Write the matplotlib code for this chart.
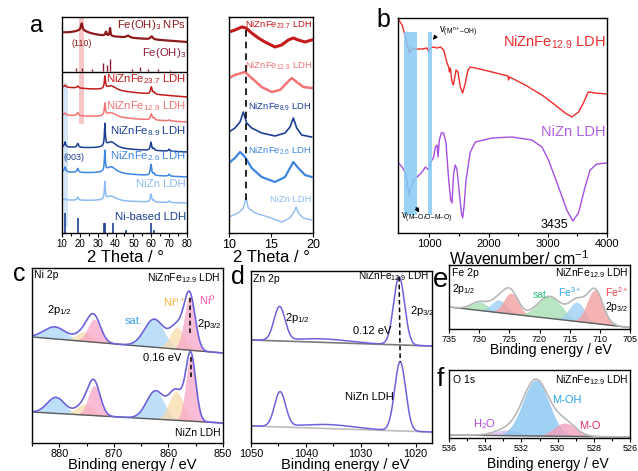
import numpy as np
import matplotlib
matplotlib.use("Agg")
import matplotlib.pyplot as plt

plt.rcParams['font.family'] = ['Liberation Sans', 'DejaVu Sans']
plt.rcParams['mathtext.fontset'] = 'custom'
plt.rcParams['mathtext.rm'] = 'Liberation Sans'
plt.rcParams['mathtext.default'] = 'regular'
plt.rcParams['axes.linewidth'] = 1.0

W, H = 638, 471

# ---------------- data: panel a (XRD, wide range) ----------------
# baselines (intensity at 10 deg, at 80 deg) and peaks (2theta, height, hwhm)
xrd_names = ['Fe(OH)$_3$ NPs', 'NiZnFe$_{23.7}$ LDH', 'NiZnFe$_{12.9}$ LDH',
             'NiZnFe$_{8.9}$ LDH', 'NiZnFe$_{2.6}$ LDH', 'NiZn LDH']
xrd_colors = ['#8e1b1b', '#c41a1a', '#f27474', '#1c3f94', '#3d86e2', '#8cbcf3']
xrd_base = [(200, 191), (146, 136), (118, 111), (86, 81), (61, 56), (33, 30)]
xrd_peaks = [
    [(21.0, 7, 0.5), (21.0, 4, 5.0), (34.6, 4, 0.4), (36.9, 8, 0.3), (47.0, 2, 1.0), (60.2, 3, 0.8)],
    [(11.7, 2, 0.5), (18.8, 2, 0.6), (34.0, 12, 0.35), (37.5, 5, 3.5), (60.0, 7, 0.5), (61.5, 2, 0.5)],
    [(11.7, 2, 0.5), (18.8, 3, 0.6), (34.0, 12, 0.35), (37.5, 5, 3.5), (60.0, 6, 0.5), (61.5, 2, 0.5), (70.0, 1, 0.6)],
    [(11.7, 5, 0.45), (18.8, 4, 0.5), (34.0, 22, 0.3), (37.5, 7, 3.5), (59.8, 8, 0.45), (61.4, 2, 0.4), (70.0, 2, 0.5)],
    [(11.7, 5, 0.5), (18.8, 4, 0.5), (34.0, 20, 0.3), (37.5, 7, 3.5), (59.8, 11, 0.45), (61.4, 2, 0.4), (70.0, 2, 0.5)],
    [(11.7, 1, 0.5), (18.8, 3, 0.5), (34.0, 17, 0.3), (37.5, 5, 3.5), (59.8, 8, 0.45), (61.4, 2, 0.4), (70.0, 1.5, 0.5)],
]
xrd_label_y = [208, 154, 127, 102, 77, 49]

feoh3_pos = [17.8, 21.0, 26.6, 33.1, 35.4, 36.8, 49.0, 53.6, 58.3, 63.9, 70.4]
feoh3_int = [3, 3, 2, 8, 6, 12, 2, 4, 2, 2, 1]
ldh_pos = [11.7, 18.8, 33.5, 34.3, 38.8, 46.0, 59.8, 61.5]
ldh_int = [20, 15, 10, 10, 10, 3, 10, 3]

# ---------------- data: panel a (XRD, 10-20 deg zoom) ----------------
z_names = ['NiZnFe$_{23.7}$ LDH', 'NiZnFe$_{12.9}$ LDH', 'NiZnFe$_{8.9}$ LDH',
           'NiZnFe$_{2.6}$ LDH', 'NiZn LDH']
z_colors = ['#c41a1a', '#f27474', '#1c3f94', '#3d86e2', '#8cbcf3']
z_lw = [2.2, 1.8, 1.2, 1.6, 1.0]
z_label_y = [208, 167, 126, 82, 34]
z_x = [
    [10.0, 10.71, 11.51, 12.02, 12.70, 13.49, 14.29, 15.48, 16.27, 17.06, 17.66, 18.25, 19.05, 19.84],
    [10.0, 10.71, 11.90, 12.70, 13.89, 15.08, 16.07, 16.87, 17.46, 18.06, 18.85, 19.84],
    [10.0, 10.71, 11.31, 11.71, 12.10, 12.70, 13.89, 15.48, 16.67, 17.26, 17.66, 18.06, 18.65, 19.84],
    [10.0, 10.71, 11.31, 11.90, 12.70, 13.89, 15.48, 16.67, 17.26, 17.66, 18.25, 19.05, 19.84],
    [10.0, 11.11, 11.71, 12.02, 12.30, 13.10, 14.68, 16.27, 17.26, 17.74, 17.98, 18.25, 18.85, 19.84],
]
z_y = [
    [201, 203, 206, 205, 200, 195, 191, 186, 188, 193, 195, 193, 191, 193],
    [155, 158, 161, 155, 146, 141, 143, 150, 155, 151, 146, 145],
    [101, 105, 111, 121, 110, 105, 100, 97, 100, 106, 115, 105, 98, 96],
    [70, 75, 81, 76, 65, 56, 51, 56, 65, 71, 65, 58, 56],
    [16, 20, 25, 35, 25, 20, 16, 11, 15, 21, 26, 20, 15, 13],
]

# ---------------- data: panel b (FTIR) ----------------
ir_red_w = [482, 540, 595, 651, 668, 708, 764, 877, 961, 989, 1017, 1073, 1130, 1186, 1242,
            1298, 1326, 1337, 1354, 1382, 1405, 1427, 1450, 1484, 1523, 1562, 1607, 1652,
            1691, 1776, 2057, 2327, 2337, 2354, 2619, 2900, 3124, 3293, 3406, 3518, 3602,
            3659, 3686, 3799, 3996]
ir_red_y = [213, 208, 196, 183, 180, 185, 184, 184, 185, 181, 185, 186, 185, 186, 183,
            170, 166, 161, 165, 151, 148, 155, 163, 161, 146, 140, 150, 163,
            166, 165, 161, 157, 153, 156, 148, 138, 128, 120, 116, 121, 130,
            138, 141, 140, 139]
ir_pur_w = [482, 540, 595, 640, 662, 685, 735, 792, 877, 933, 989, 1017, 1073, 1101, 1130,
            1146, 1169, 1202, 1242, 1281, 1326, 1360, 1382, 1410, 1438, 1467, 1506, 1540,
            1562, 1585, 1619, 1691, 1776, 2057, 2394, 2731, 2900, 3012, 3181, 3321, 3422,
            3518, 3630, 3715, 3827, 3996]
ir_pur_y = [70, 66, 60, 45, 38, 45, 53, 56, 61, 66, 63, 70, 76, 86, 88,
            76, 93, 100, 100, 90, 53, 33, 30, 60, 68, 63, 40, 20,
            15, 26, 53, 81, 91, 95, 96, 93, 86, 73, 46, 23, 12,
            20, 46, 63, 69, 70]
ir_bands = [(578, 798), (978, 1046)]

# ---------------- data: panel c (Ni 2p) ----------------
ni_base = [(106, 90), (31, 20)]          # background at 885 eV and 850 eV
ni_comp = [                               # (center, height, sigma, kind)
    [(880.8, 12, 2.0, 'sat'), (875.3, 9.5, 1.5, 'ion'), (873.6, 23, 1.2, 'met'),
     (862.6, 28, 1.8, 'sat'), (858.4, 22, 1.3, 'ion'), (856.1, 54, 1.0, 'met')],
    [(880.6, 16, 1.6, 'sat'), (875.3, 11, 1.5, 'ion'), (873.6, 30, 1.1, 'met'),
     (862.4, 28, 1.6, 'sat'), (858.6, 29, 1.3, 'ion'), (855.9, 66, 0.9, 'met')],
]

# ---------------- data: panel d (Zn 2p) ----------------
zn_base = [(103, 97), (17, 11)]
zn_comp = [
    [(1044.8, 33.5, 1.0), (1037.0, 3.5, 5.0), (1023.0, 68, 1.0)],
    [(1044.7, 34.5, 1.0), (1036.0, 4.0, 5.0), (1022.8, 69, 1.0)],
]

# ---------------- data: panel e (Fe 2p) ----------------
fe_base = (22, 1.5)
fe_comp = [(729.9, 8.5, 1.4, 'sat'), (726.7, 12.7, 1.3, 'fe3'), (724.7, 21, 1.2, 'fe2'),
           (718.3, 22, 2.0, 'sat'), (713.8, 19.5, 1.3, 'fe3'), (710.8, 33.6, 1.3, 'fe2')]

# ---------------- data: panel f (O 1s) ----------------
o_base = (3, 1)
o_comp = [(532.8, 5.6, 0.7, 'h2o'), (531.2, 56, 0.72, 'moh'), (529.6, 13.3, 0.6, 'mo')]


def box(l, t, r, b):
    return [l / W, 1 - b / H, (r - l) / W, (b - t) / H]


def lorentz(x, peaks):
    y = np.zeros_like(x)
    for c, h, w in peaks:
        y += h / (1 + ((x - c) / w) ** 2)
    return y


def gauss(x, c, h, s):
    return h * np.exp(-(x - c) ** 2 / (2 * s ** 2))


def line(x, x0, x1, y0, y1):
    return y0 + (y1 - y0) * (x - x0) / (x1 - x0)


def style(ax, size):
    ax.set_yticks([])
    ax.tick_params(axis='x', which='both', direction='out', labelsize=size, pad=1.0, width=0.8)
    ax.tick_params(axis='x', which='major', length=3)
    ax.tick_params(axis='x', which='minor', length=1.8)


def xlabel(ax, text, size, xc, yc, box_px):
    l, t, r, b = box_px
    ax.set_xlabel(text, fontsize=size)
    ax.xaxis.label.set_va('center')
    ax.xaxis.set_label_coords((xc - l) / (r - l), (b - yc) / (b - t))


fig = plt.figure(figsize=(W / 100, H / 100), dpi=100)

# ======================= panel a, left =======================
A1 = (62, 17, 187, 233)
ax = fig.add_axes(box(*A1))
x = np.linspace(10, 80, 1400)
ax.axvspan(11.1, 13.4, ymin=6 / 216, ymax=150 / 216, color='#d3e6fa', lw=0, zorder=0)
ax.axvspan(19.5, 22.3, ymin=109 / 216, ymax=215 / 216, color='#f7c6c6', lw=0, zorder=0)
for i, name in enumerate(xrd_names):
    y = line(x, 10, 80, *xrd_base[i]) + lorentz(x, xrd_peaks[i])
    ax.plot(x, y, color=xrd_colors[i], lw=1.6 if i == 0 else 1.1)
    ax.text(79.5, xrd_label_y[i], name, color=xrd_colors[i], fontsize=8.2, ha='right', va='center')
ax.vlines(feoh3_pos, 162, [162 + v for v in feoh3_int], color='#8e1b3a', lw=1.0)
ax.text(79.5, 180, 'Fe(OH)$_3$', color='#8e1b3a', fontsize=8.2, ha='right', va='center')
ax.vlines(ldh_pos, 0, ldh_int, color='#1c3f94', lw=1.2)
ax.text(79.5, 16, 'Ni-based LDH', color='#1c3f94', fontsize=8.2, ha='right', va='center')
ax.axhline(161, color='black', lw=1.0)
ax.text(21.2, 190, '(110)', color='#8e1b1b', fontsize=6.5, ha='center', va='center')
ax.text(16.5, 76, '(003)', color='#1c3f94', fontsize=6.5, ha='center', va='center')
ax.set_xlim(10, 80)
ax.set_ylim(0, 216)
ax.set_xticks(range(10, 81, 10))
ax.set_xticks(range(15, 80, 10), minor=True)
style(ax, 7)
xlabel(ax, '2 Theta / °', 12, 125, 257, A1)

# ======================= panel a, right =======================
A2 = (229, 17, 313, 233)
ax = fig.add_axes(box(*A2))
for i, name in enumerate(z_names):
    ax.plot(z_x[i], z_y[i], color=z_colors[i], lw=z_lw[i])
    ax.text(19.85, z_label_y[i], name, color=z_colors[i], fontsize=6.8, ha='right', va='center')
ax.plot([12.02, 12.02], [33, 206], color='black', lw=1.2, ls=(0, (4, 3)))
ax.set_xlim(10, 20)
ax.set_ylim(0, 216)
ax.set_xticks([10, 15, 20])
style(ax, 9)
xlabel(ax, '2 Theta / °', 12, 271, 258, A2)

# ======================= panel b =======================
B = (398, 18, 607, 233)
ax = fig.add_axes(box(*B))
ax.plot(ir_red_w, ir_red_y, color='#ee2c2c', lw=1.0)
ax.plot(ir_pur_w, ir_pur_y, color='#a64fe0', lw=1.0)
for lo, hi in ir_bands:
    ax.axvspan(lo, hi, ymin=18 / 215, ymax=201 / 215, color='#86cbf5', alpha=0.85, lw=0, zorder=3)
ax.text(3980, 191, 'NiZnFe$_{12.9}$ LDH', color='#ee2c2c', fontsize=10.5, ha='right', va='center')
ax.text(3980, 101, 'NiZn LDH', color='#b05ee6', fontsize=10.5, ha='right', va='center')
ax.text(1160, 201, 'v$_{(M^{n+}\u2013OH)}$', fontsize=7, ha='left', va='center', zorder=4)
ax.annotate('', xy=(1030, 191), xytext=(1140, 199),
            arrowprops=dict(arrowstyle='-|>', color='black', lw=0.8, mutation_scale=6), zorder=4)
ax.text(515, 15, 'v$_{(M\u2013O/O\u2013M\u2013O)}$', fontsize=7, ha='left', va='center', zorder=4)
ax.annotate('', xy=(850, 18), xytext=(752, 28),
            arrowprops=dict(arrowstyle='-|>', color='black', lw=0.8, mutation_scale=6), zorder=4)
ax.text(3108, 8, '3435', fontsize=9, ha='center', va='center')
ax.set_xlim(470, 4000)
ax.set_ylim(0, 215)
ax.set_xticks([1000, 2000, 3000, 4000])
ax.set_xticks([1500, 2500, 3500], minor=True)
style(ax, 8)
xlabel(ax, 'Wavenumber/ cm$^{-1}$', 11.5, 519, 259, B)

# ======================= panel c =======================
C = (32, 268, 223, 443)
ax = fig.add_axes(box(*C))
E = np.linspace(885, 850, 800)
fills = {'sat': '#a8d5f7', 'ion': '#f8dcaa', 'met': '#f7a6c9'}
for k in range(2):
    base = line(E, 885, 850, *ni_base[k])
    total = base.copy()
    for c, h, s, kind in ni_comp[k]:
        g = gauss(E, c, h, s)
        total += g
        ax.fill_between(E, base, base + g, color=fills[kind], alpha=0.75, lw=0)
    ax.plot(E, base, color='#5a5a5a', lw=1.0)
    ax.plot(E, total, color='#6c63dc', lw=1.2)
ax.plot([856.1, 856.1], [110, 146], color='black', lw=1.1, ls=(0, (3, 2)))
ax.plot([855.9, 855.9], [66, 88], color='black', lw=1.1, ls=(0, (3, 2)))
ax.text(884.6, 168, 'Ni 2p', fontsize=7.5, ha='left', va='center')
ax.text(850.5, 165, 'NiZnFe$_{12.9}$ LDH', fontsize=7.5, ha='right', va='center')
ax.text(882.3, 133, '2p$_{1/2}$', fontsize=8, ha='left', va='center')
ax.text(868.0, 122, 'sat.', fontsize=8, ha='left', va='center', color='#3aa0e8')
ax.text(861.0, 140, 'Ni$^{n+}$', fontsize=8, ha='left', va='center', color='#f2b134')
ax.text(854.4, 143, 'Ni$^{0}$', fontsize=8, ha='left', va='center', color='#ff4fa8')
ax.text(854.8, 119, '2p$_{3/2}$', fontsize=8, ha='left', va='center')
ax.text(864.7, 85, '0.16 eV', fontsize=8, ha='left', va='center')
ax.text(850.5, 10, 'NiZn LDH', fontsize=7.5, ha='right', va='center')
ax.set_xlim(885, 850)
ax.set_ylim(0, 175)
ax.set_xticks([880, 870, 860, 850])
ax.set_xticks([885, 875, 865, 855], minor=True)
style(ax, 7.8)
xlabel(ax, 'Binding energy / eV', 10.5, 132, 465, C)

# ======================= panel d =======================
D = (251, 271, 432, 443)
ax = fig.add_axes(box(*D))
E = np.linspace(1050, 1017, 800)
base_cols = ['#7a7a7a', '#bdbdbd']
for k in range(2):
    base = line(E, 1050, 1017, *zn_base[k])
    total = base.copy()
    for c, h, s in zn_comp[k]:
        total += gauss(E, c, h, s)
    ax.plot(E, base, color=base_cols[k], lw=1.2)
    ax.plot(E, total, color='#6c63dc', lw=1.1)
ax.plot([1023.0, 1022.8], [166, 81], color='black', lw=1.1, ls=(0, (3, 2)))
ax.text(1049.6, 164, 'Zn 2p', fontsize=7.5, ha='left', va='center')
ax.text(1017.6, 167, 'NiZnFe$_{12.9}$ LDH', fontsize=7.2, ha='right', va='center')
ax.text(1043.8, 125, '2p$_{1/2}$', fontsize=8, ha='left', va='center')
ax.text(1021.0, 132, '2p$_{3/2}$', fontsize=8, ha='left', va='center')
ax.text(1031.4, 112, '0.12 eV', fontsize=8, ha='left', va='center')
ax.text(1032.9, 46, 'NiZn LDH', fontsize=8, ha='left', va='center')
ax.set_xlim(1050, 1017)
ax.set_ylim(0, 172)
ax.set_xticks([1050, 1040, 1030, 1020])
ax.set_xticks([1045, 1035, 1025], minor=True)
style(ax, 7.8)
xlabel(ax, 'Binding energy / eV', 10.5, 345, 465, D)

# ======================= panel e =======================
Ebox = (449, 265, 630, 329)
ax = fig.add_axes(box(*Ebox))
E = np.linspace(735, 705, 800)
fe_fill = {'sat': '#a6e0b4', 'fe3': '#9fd0f6', 'fe2': '#f4a0a0'}
base = line(E, 735, 705, *fe_base)
total = base.copy()
for c, h, s, kind in fe_comp:
    g = gauss(E, c, h, s)
    total += g
    ax.fill_between(E, base, base + g, color=fe_fill[kind], alpha=0.8, lw=0)
ax.plot(E, base, color='#606060', lw=1.0)
ax.plot(E, total, color='#b8b8b8', lw=1.2)
ax.text(734.5, 56, 'Fe 2p', fontsize=7.5, ha='left', va='center')
ax.text(734.5, 40, '2p$_{1/2}$', fontsize=7.5, ha='left', va='center')
ax.text(705.3, 56, 'NiZnFe$_{12.9}$ LDH', fontsize=7.5, ha='right', va='center')
ax.text(721.2, 34, 'sat.', fontsize=7.5, ha='left', va='center', color='#2fc27a')
ax.text(716.9, 37, 'Fe$^{3+}$', fontsize=7.5, ha='left', va='center', color='#37a4f0')
ax.text(709.1, 37, 'Fe$^{2+}$', fontsize=7.5, ha='left', va='center', color='#f0484f')
ax.text(709.1, 22, '2p$_{3/2}$', fontsize=7.5, ha='left', va='center')
ax.set_xlim(735, 705)
ax.set_ylim(0, 64)
ax.set_xticks(range(735, 704, -5))
style(ax, 6.5)
xlabel(ax, 'Binding energy / eV', 10, 551, 350, Ebox)

# ======================= panel f =======================
F = (449, 370, 630, 438)
ax = fig.add_axes(box(*F))
E = np.linspace(536, 526, 800)
o_fill = {'h2o': '#d6b8f2', 'moh': '#86c6f0', 'mo': '#f1a0bd'}
base = line(E, 536, 526, *o_base)
total = base.copy()
for c, h, s, kind in o_comp:
    g = gauss(E, c, h, s)
    total += g
    ax.fill_between(E, base, base + g, color=o_fill[kind], alpha=0.8, lw=0)
ax.plot(E, base, color='#606060', lw=1.0)
ax.plot(E, total, color='#b8b8b8', lw=1.2)
ax.text(535.8, 58, 'O 1s', fontsize=7.5, ha='left', va='center')
ax.text(526.1, 58, 'NiZnFe$_{12.9}$ LDH', fontsize=7.5, ha='right', va='center')
ax.text(530.3, 38, 'M-OH', fontsize=8, ha='left', va='center', color='#2aa3e6')
ax.text(534.7, 14, 'H$_2$O', fontsize=8, ha='left', va='center', color='#b048e0')
ax.text(528.8, 12, 'M-O', fontsize=8, ha='left', va='center', color='#e0336e')
ax.set_xlim(536, 526)
ax.set_ylim(0, 68)
ax.set_xticks(range(536, 525, -2))
ax.set_xticks(range(535, 526, -2), minor=True)
style(ax, 6.5)
xlabel(ax, 'Binding energy / eV', 10, 548, 464, F)

# panel letters
for letter, px, py, size in [('a', 37, 26, 17), ('b', 383, 20, 18), ('c', 19, 274, 18),
                             ('d', 238, 277, 18), ('e', 441, 280, 20), ('f', 440, 379, 19)]:
    fig.text(px / W, 1 - py / H, letter, fontsize=size, ha='center', va='center')

fig.savefig('out.png', dpi=100)
